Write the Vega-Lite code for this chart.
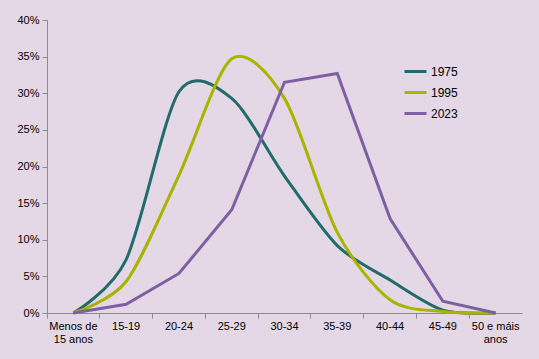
{
  "$schema": "https://vega.github.io/schema/vega-lite/v6.json",
  "width": 475,
  "height": 293,
  "autosize": "none",
  "padding": {"left": 47, "top": 20, "right": 17, "bottom": 46},
  "background": "#E4D8E6",
  "config": {
    "view": {"stroke": null},
    "font": "Liberation Sans",
    "axis": {"labelFont": "Liberation Sans", "labelFontSize": 11, "labelColor": "#000", "domainColor": "#8C8C8C", "tickColor": "#8C8C8C", "grid": false, "title": null}
  },
  "data": {"values": [
    {"age": "Menos de 15 anos", "year": "1975", "v": 0.0},
    {"age": "15-19", "year": "1975", "v": 0.073},
    {"age": "20-24", "year": "1975", "v": 0.302},
    {"age": "25-29", "year": "1975", "v": 0.293},
    {"age": "30-34", "year": "1975", "v": 0.187},
    {"age": "35-39", "year": "1975", "v": 0.092},
    {"age": "40-44", "year": "1975", "v": 0.045},
    {"age": "45-49", "year": "1975", "v": 0.004},
    {"age": "50 e máis anos", "year": "1975", "v": 0.0},
    {"age": "Menos de 15 anos", "year": "1995", "v": 0.0},
    {"age": "15-19", "year": "1995", "v": 0.043},
    {"age": "20-24", "year": "1995", "v": 0.188},
    {"age": "25-29", "year": "1995", "v": 0.347},
    {"age": "30-34", "year": "1995", "v": 0.293},
    {"age": "35-39", "year": "1995", "v": 0.11},
    {"age": "40-44", "year": "1995", "v": 0.018},
    {"age": "45-49", "year": "1995", "v": 0.002},
    {"age": "50 e máis anos", "year": "1995", "v": 0.0},
    {"age": "Menos de 15 anos", "year": "2023", "v": 0.0},
    {"age": "15-19", "year": "2023", "v": 0.012},
    {"age": "20-24", "year": "2023", "v": 0.054},
    {"age": "25-29", "year": "2023", "v": 0.141},
    {"age": "30-34", "year": "2023", "v": 0.315},
    {"age": "35-39", "year": "2023", "v": 0.327},
    {"age": "40-44", "year": "2023", "v": 0.129},
    {"age": "45-49", "year": "2023", "v": 0.016},
    {"age": "50 e máis anos", "year": "2023", "v": 0.0}
  ]},
  "encoding": {
    "x": {"field": "age", "type": "nominal", "sort": null,
      "scale": {"type": "band", "paddingInner": 0, "paddingOuter": 0},
      "axis": {"labelAngle": 0, "bandPosition": 0, "tickSize": 5, "labelPadding": 2, "labelLineHeight": 13,
        "labelExpr": "datum.label == 'Menos de 15 anos' ? ['Menos de','15 anos'] : datum.label == '50 e máis anos' ? ['50 e máis','anos'] : datum.label"}},
    "y": {"field": "v", "type": "quantitative",
      "scale": {"domain": [0, 0.4], "nice": false},
      "axis": {"format": ".0%", "values": [0, 0.05, 0.1, 0.15, 0.2, 0.25, 0.3, 0.35, 0.4], "tickSize": 5, "labelPadding": 3}},
    "color": {"field": "year", "type": "nominal",
      "scale": {"domain": ["1975", "1995", "2023"], "range": ["#226B6D", "#A9B400", "#7E5FA3"]},
      "legend": {"title": null, "orient": "none", "legendX": 356, "legendY": 39, "symbolType": "stroke", "symbolSize": 484, "symbolStrokeWidth": 3, "labelFontSize": 12, "labelFont": "Liberation Sans", "labelColor": "#000", "rowPadding": 2, "labelOffset": 3}}
  },
  "layer": [
    {"transform": [{"filter": "datum.year != '2023'"}], "mark": {"type": "line", "interpolate": "cardinal", "tension": 0.15, "strokeWidth": 3}},
    {"transform": [{"filter": "datum.year == '2023'"}], "mark": {"type": "line", "interpolate": "linear", "strokeWidth": 3}}
  ]
}
